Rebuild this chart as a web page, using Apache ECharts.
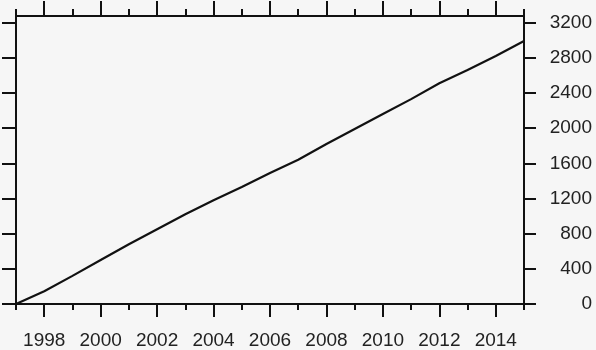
<!DOCTYPE html>
<html>
<head>
<meta charset="utf-8">
<script src="https://cdn.jsdelivr.net/npm/echarts@6/dist/echarts.min.js"></script>
<style>
html,body{margin:0;padding:0;background:#f6f6f6;}
#c{width:596px;height:350px;}
</style>
</head>
<body>
<div id="c"></div>
<script>
const years = [1997,1998,1999,2000,2001,2002,2003,2004,2005,2006,2007,2008,2009,2010,2011,2012,2013,2014,2015];
const values = [0,145,320,500,680,850,1020,1180,1330,1490,1640,1820,1990,2160,2330,2510,2660,2820,2990];
const xMajorTicks = [1998,2000,2002,2004,2006,2008,2010,2012,2014];
const xMinorTicks = [1997,1999,2001,2003,2005,2007,2009,2011,2013,2015];
const yTicks = [0,400,800,1200,1600,2000,2400,2800,3200];

const chart = echarts.init(document.getElementById('c'), null, {renderer:'canvas'});
const axisLine = {show:true, lineStyle:{color:'#111', width:2}};
const font = {fontFamily:'Liberation Sans, Arial, sans-serif', fontSize:19, color:'#222'};
function xAxisDef(pos, ticks, len, showLabel, showLine){
  return {
    type:'value', position:pos, min:1997, max:2015,
    axisLine: showLine ? axisLine : {show:false},
    axisTick:{show:true, customValues:ticks, length:len, lineStyle:{color:'#111', width:2}},
    axisLabel: showLabel ? Object.assign({show:true, customValues:ticks, margin:27, formatter:v=>String(v)}, font) : {show:false},
    splitLine:{show:false}
  };
}
const data = years.map((y,i)=>[y, values[i]]);
chart.setOption({
  backgroundColor:'#f6f6f6',
  animation:false,
  grid:{left:16, right:72, top:16, bottom:45, containLabel:false},
  xAxis:[
    xAxisDef('bottom', xMajorTicks, 13, true, true),
    xAxisDef('bottom', xMinorTicks, 6, false, false),
    xAxisDef('top', xMajorTicks, 15, false, true),
    xAxisDef('top', xMinorTicks, 7, false, false)
  ],
  yAxis:[
    {type:'value', position:'right', min:0, max:3275,
     axisLine:axisLine,
     axisTick:{show:true, customValues:yTicks, length:12, lineStyle:{color:'#111', width:2}},
     axisLabel:Object.assign({show:true, customValues:yTicks, align:'right', margin:68, formatter:v=>String(v)}, font),
     splitLine:{show:false}},
    {type:'value', position:'left', min:0, max:3275,
     axisLine:axisLine,
     axisTick:{show:true, customValues:yTicks, length:14, lineStyle:{color:'#111', width:2}},
     axisLabel:{show:false},
     splitLine:{show:false}}
  ],
  series:[{
    type:'line', data:data, xAxisIndex:0, yAxisIndex:0,
    showSymbol:false, symbol:'none',
    lineStyle:{color:'#111', width:2.2}
  }]
});
</script>
</body>
</html>
